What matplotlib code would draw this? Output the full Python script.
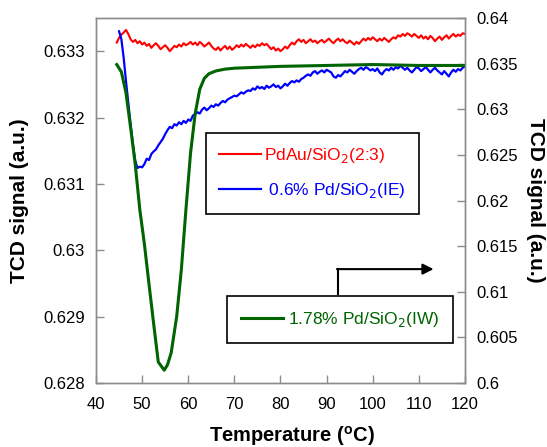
import numpy as np
import matplotlib
matplotlib.use("Agg")
import matplotlib.pyplot as plt
from matplotlib.ticker import FuncFormatter

plt.rcParams['font.family'] = ['Liberation Sans', 'DejaVu Sans']

# red: PdAu/SiO2(2:3), offsets from 0.633 in units of 1e-5, x = 44.5, 45 ... 120
red_x = np.arange(44.5, 120.01, 0.5)
red_off = [13,
           20, 25, 28, 32, 26, 18, 14, 17, 12, 15,
           10, 13, 8, 11, 5, 9, 12, 8, 3, 6,
           9, 5, 0, 4, 8, 6, 10, 7, 12, 9,
           11, 14, 10, 13, 9, 14, 11, 7, 10, 13,
           8, 4, 2, 6, 1, 5, 8, 3, 7, 2,
           5, 9, 6, 10, 7, 11, 8, 5, 9, 6,
           10, 8, 12, 9, 11, 7, 3, 6, 1, 4,
           0, 3, 7, 4, 9, 13, 10, 15, 18, 14,
           17, 12, 15, 18, 14, 16, 12, 15, 17, 13,
           16, 19, 15, 12, 16, 19, 15, 18, 14, 12,
           16, 13, 10, 14, 11, 15, 19, 16, 20, 17,
           21, 18, 15, 19, 16, 20, 17, 14, 18, 21,
           19, 24, 22, 26, 23, 27, 25, 22, 26, 23,
           20, 24, 19, 22, 18, 23, 20, 15, 19, 22,
           17, 21, 24, 19, 23, 26, 22, 25, 23, 27,
           26]
red_y = 0.633 + np.array(red_off) * 1e-5

# blue: 0.6% Pd/SiO2(IE), offsets from 0.630 in units of 1e-5, x = 45 ... 120
blue_x = np.arange(45.0, 120.01, 0.5)
blue_off = [330, 318, 290, 255, 222, 190, 160, 135, 124, 126,
            125, 130, 138, 136, 145, 149, 152, 158, 163, 168,
            175, 181, 186, 184, 190, 188, 193, 190, 195, 192,
            197, 195, 203, 205, 208, 206, 212, 215, 211, 214,
            218, 216, 220, 218, 222, 225, 223, 227, 229, 231,
            233, 232, 235, 238, 236, 239, 241, 240, 244, 242,
            247, 244, 246, 243, 248, 245, 247, 250, 246, 248,
            244, 247, 251, 248, 252, 255, 253, 256, 254, 258,
            260, 263, 265, 263, 268, 270, 266, 269, 271, 268,
            272, 270, 268, 262, 260, 264, 262, 266, 270, 268,
            272, 269, 266, 270, 273, 275, 272, 276, 274, 271,
            273, 270, 274, 268, 265, 270, 273, 271, 275, 272,
            276, 274, 278, 275, 272, 275, 271, 268, 272, 276,
            274, 270, 273, 276, 272, 268, 272, 275, 271, 268,
            265, 270, 266, 262, 268, 272, 269, 273, 271, 275,
            277]
blue_y = 0.630 + np.array(blue_off) * 1e-5

# green: 1.78% Pd/SiO2(IW), right axis
green_x = [44.5, 45.5, 46.5, 47.5, 48.5, 49.5, 50.5, 51.5, 52.5, 53.5, 54.8,
           55.5, 56.3, 57.5, 58.5, 59.5, 60.5, 61.5, 62.5, 63.5, 64.5, 66,
           68, 70, 75, 80, 90, 100, 110, 120]
green_y = [0.6349, 0.6341, 0.6318, 0.6280, 0.6240, 0.6190, 0.6152, 0.6108,
           0.6065, 0.6023, 0.6014, 0.6020, 0.6033, 0.6073, 0.6124, 0.6190,
           0.6252, 0.6295, 0.6322, 0.6334, 0.6339, 0.6342, 0.6344, 0.6345,
           0.6346, 0.6347, 0.6348, 0.6349, 0.6348, 0.6348]

fig = plt.figure(figsize=(5.47, 4.47), dpi=100)
ax = fig.add_axes([0.1755, 0.1432, 0.6745, 0.8165])
ax2 = ax.twinx()

l1, = ax.plot(red_x, red_y, color='#ff0000', lw=1.5, label='PdAu/SiO$_2$(2:3)')
l2, = ax.plot(blue_x, blue_y, color='#0000ff', lw=1.6, label=' 0.6% Pd/SiO$_2$(IE)')
l3, = ax2.plot(green_x, green_y, color='#006400', lw=2.2, label='1.78% Pd/SiO$_2$(IW)')

ax.set_xlim(40, 120)
ax.set_ylim(0.628, 0.6335)
ax.set_yticks([0.628, 0.629, 0.63, 0.631, 0.632, 0.633])
ax.set_xticks(range(40, 121, 10))
ax2.set_ylim(0.6, 0.64)
ax2.set_yticks([0.6, 0.605, 0.61, 0.615, 0.62, 0.625, 0.63, 0.635, 0.64])

fmt = FuncFormatter(lambda v, p: f'{v:g}')
ax.yaxis.set_major_formatter(fmt)
ax2.yaxis.set_major_formatter(fmt)

for a in (ax, ax2):
    for s in a.spines.values():
        s.set_color('#8c8c8c')
        s.set_linewidth(1.0)
    a.tick_params(direction='in', length=6, width=1, color='#8c8c8c',
                  labelsize=12, labelcolor='black')
ax.tick_params(axis='x', pad=10)
ax.tick_params(axis='y', pad=8)
ax2.tick_params(axis='y', pad=8)

ax.set_xlabel('Temperature ($^\\mathregular{o}$C)', fontsize=14.5, fontweight='bold',
              va='center')
ax.xaxis.set_label_coords(0.53, -0.145)
ax.set_ylabel('TCD signal (a.u.)', fontsize=15, fontweight='bold', va='center')
ax.yaxis.set_label_coords(-0.207, 0.5)
ax2.set_ylabel('TCD signal (a.u.)', fontsize=15, fontweight='bold', rotation=270,
               va='center')
ax2.yaxis.set_label_coords(1.19, 0.5)

leg1 = ax.legend(handles=[l1, l2], loc='upper left', bbox_to_anchor=(0.299, 0.685),
                 borderaxespad=0, fancybox=False, framealpha=1, edgecolor='black',
                 fontsize=12.5, handlelength=2.4, handletextpad=0.2,
                 borderpad=0.75, labelspacing=0.95)
leg1.get_frame().set_linewidth(1.2)
for t, c in zip(leg1.get_texts(), ['#ff0000', '#0000ff']):
    t.set_color(c)

leg2 = ax2.legend(handles=[l3], loc='upper left', bbox_to_anchor=(0.356, 0.238),
                  borderaxespad=0, fancybox=False, framealpha=1, edgecolor='black',
                  fontsize=12.5, handlelength=2.4, handletextpad=0.3, borderpad=0.8)
leg2.get_frame().set_linewidth(1.2)
leg2.get_texts()[0].set_color('#006400')

# arrow pointing to the right axis
ax2.plot([0.655, 0.655], [0.244, 0.312], color='black', lw=1.5,
         transform=ax2.transAxes, clip_on=False)
ax2.annotate('', xy=(0.915, 0.312), xytext=(0.653, 0.312),
             xycoords='axes fraction', textcoords='axes fraction',
             arrowprops=dict(arrowstyle='-|>', color='black', lw=1.5,
                             mutation_scale=16, shrinkA=0, shrinkB=0))

fig.savefig('out.png', dpi=100)
